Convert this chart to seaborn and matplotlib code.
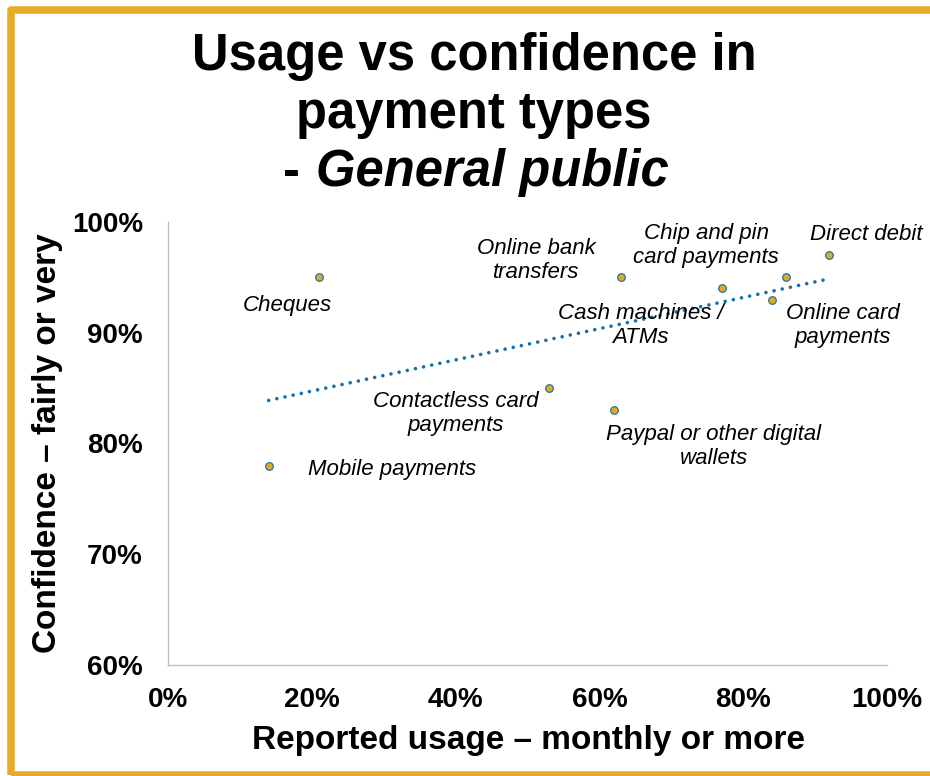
import numpy as np
import pandas as pd
import matplotlib
matplotlib.use("Agg")
import matplotlib.pyplot as plt
import seaborn as sns
from matplotlib.patches import Rectangle

# Survey results: share using each payment type monthly or more, and share fairly/very confident
payment_types = [
    "Cheques",
    "Mobile payments",
    "Contactless card\npayments",
    "Online bank\ntransfers",
    "Chip and pin\ncard payments",
    "Direct debit",
    "Cash machines /\nATMs",
    "Online card\npayments",
    "Paypal or other digital\nwallets",
]
usage = [21, 14, 53, 63, 86, 92, 77, 84, 62]
confidence = [95, 78, 85, 95, 95, 97, 94, 93, 83]

x_ticks = [0, 20, 40, 60, 80, 100]
y_ticks = [60, 70, 80, 90, 100]

# Label placement relative to each point (pixels), with horizontal alignment
label_offsets = [
    (-32, -28, "center"),
    (39, -4, "left"),
    (-93, -25, "center"),
    (-85, 17, "center"),
    (-80, 32, "center"),
    (37, 21, "center"),
    (-81, -37, "center"),
    (71, -26, "center"),
    (100, -36, "center"),
]

sns.set_theme(style="white")
plt.rcParams["font.family"] = ["Liberation Sans", "DejaVu Sans"]
plt.rcParams["text.color"] = "black"
plt.rcParams["xtick.color"] = "black"
plt.rcParams["ytick.color"] = "black"

W, H = 930, 776
fig = plt.figure(figsize=(W / 100, H / 100), dpi=100)
fig.patch.set_facecolor("white")

ax = fig.add_axes([168 / W, 1 - 665 / H, (887 - 168) / W, (665 - 222) / H])

df = pd.DataFrame({"type": payment_types, "usage": usage, "confidence": confidence})

trend_color = "#1370AA"
sns.regplot(
    data=df, x="usage", y="confidence", ax=ax, scatter=False, ci=None,
    truncate=True,
    line_kws=dict(color=trend_color, lw=2.6, linestyle=(0, (0.01, 2.3)),
                  dash_capstyle="round"),
)
sns.scatterplot(
    data=df, x="usage", y="confidence", ax=ax, s=30, color="#E4A922",
    edgecolor="#1E74AE", linewidth=0.9, zorder=3, legend=False,
)

for (name, ux, cy), (dx, dy, ha) in zip(zip(payment_types, usage, confidence), label_offsets):
    ax.annotate(
        name, xy=(ux, cy), xytext=(dx, dy), textcoords="offset pixels",
        ha=ha, va="center", multialignment="center", fontsize=16,
        fontstyle="italic", color="black", linespacing=1.2,
    )

ax.set_xlim(0, 100)
ax.set_ylim(60, 100)
ax.set_xticks(x_ticks)
ax.set_xticklabels([f"{v}%" for v in x_ticks], fontsize=20, fontweight="bold", color="black")
ax.set_yticks(y_ticks)
ax.set_yticklabels([f"{v}%" for v in y_ticks], fontsize=20, fontweight="bold", color="black")
ax.tick_params(axis="x", length=0, pad=16)
ax.tick_params(axis="y", length=0, pad=18)
ax.set_xlabel("")
ax.set_ylabel("")
for side in ("top", "right"):
    ax.spines[side].set_visible(False)
for side in ("left", "bottom"):
    ax.spines[side].set_color("#BFBFBF")
    ax.spines[side].set_linewidth(1.0)

# Axis titles
fig.text(528 / W, 1 - 740 / H, "Reported usage \u2013 monthly or more",
         ha="center", va="center", fontsize=24, fontweight="bold", color="black")
fig.text(48 / W, 1 - 443 / H, "Confidence \u2013 fairly or very",
         ha="center", va="center", rotation=90, fontsize=24, fontweight="bold",
         color="black")

# Title
fig.text(474 / W, 1 - 70 / H, "Usage vs confidence in", ha="center",
         va="baseline", fontsize=36.5, fontweight="bold", color="black")
fig.text(474 / W, 1 - 128 / H, "payment types", ha="center",
         va="baseline", fontsize=36.5, fontweight="bold", color="black")
fig.text(283 / W, 1 - 186 / H, "-", ha="left",
         va="baseline", fontsize=36.5, fontweight="bold", color="black")
fig.text(316 / W, 1 - 186 / H, "General public", ha="left",
         va="baseline", fontsize=36.5, fontweight="bold", fontstyle="italic",
         color="black")

# Gold frame
frame = Rectangle((10.8 / W, 1 - 774.5 / H), (935 - 10.8) / W, (774.5 - 10) / H,
                  transform=fig.transFigure, fill=False, edgecolor="#E6AC26",
                  linewidth=5.4, joinstyle="round", zorder=10)
fig.patches.append(frame)

fig.savefig("out.png", dpi=100, facecolor="white")
